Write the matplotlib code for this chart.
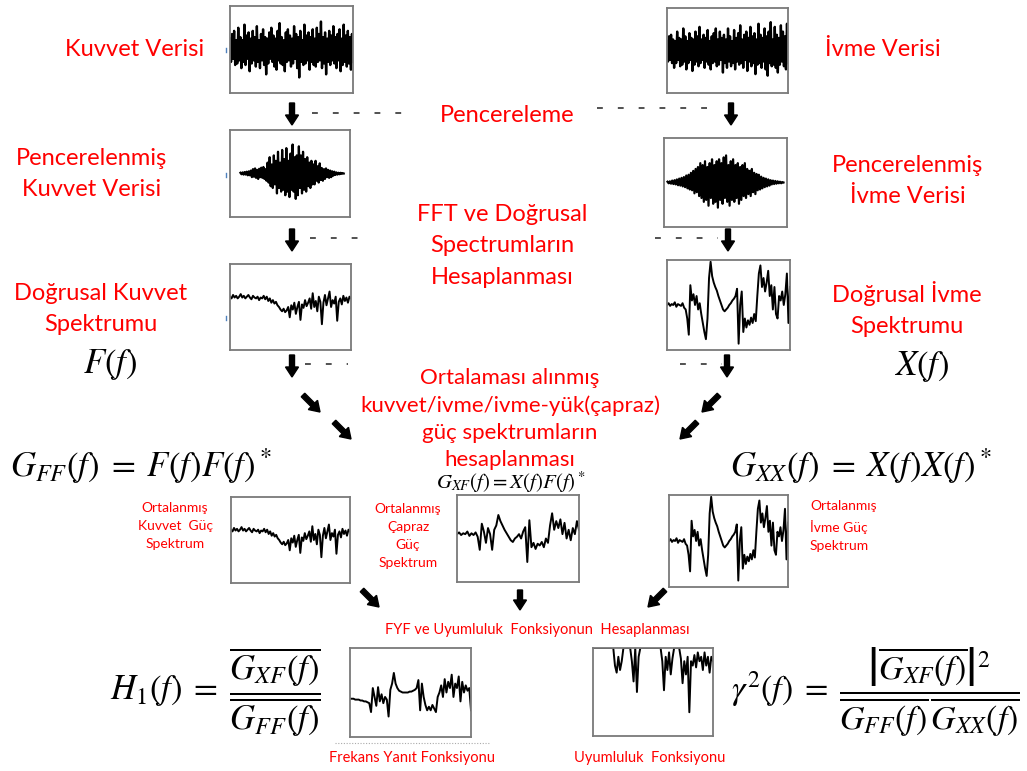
import matplotlib
matplotlib.use("Agg")
import matplotlib.pyplot as plt
from matplotlib.patches import FancyArrow

plt.rcParams['font.family'] = ['Lato', 'DejaVu Sans']
plt.rcParams['mathtext.fontset'] = 'stix'

W, H = 1027, 771
RED = '#ff0000'

# ---- signal data ----
force_raw = [0.35, -0.4, 0.5, -0.3, 0.6, -0.5, 0.3, -0.45, 0.7, -0.35,
             0.4, -0.6, 0.3, -0.4, 0.8, -0.5, 0.45, -0.3, 0.55, -0.7,
             0.35, -0.45, 0.6, -0.35, 0.4, -0.55, 0.75, -0.4, 0.3, -0.6,
             0.5, -0.35, 0.65, -0.5, 0.4, -0.8, 0.35, -0.45, 0.55, -0.3,
             0.7, -0.4, 0.45, -0.55, 0.35, -0.65, 0.6, -0.35, 0.85, -0.45,
             0.4, -0.5, 0.3, -0.7, 0.55, -0.4, 0.65, -0.35, 0.45, -0.55,
             0.35, -0.45, 0.75, -0.3, 0.5, -0.6, 0.4, -0.9, 0.6, -0.4,
             0.3, -0.5, 0.8, -0.45, 0.45, -0.35, 0.55, -0.65, 0.4, -0.4,
             0.65, -0.5, 0.35, -0.55, 0.7, -0.4, 0.5, -0.35, 0.9, -0.6,
             0.4, -0.45, 0.55, -0.8, 0.35, -0.4, 0.6, -0.5, 0.45, -0.35,
             0.75, -0.45, 0.4, -0.6, 0.5, -0.35, 0.65, -0.7, 0.35, -0.5,
             0.8, -0.4, 0.45, -0.55, 0.6, -0.45, 0.4, -0.65, 0.5, -0.4]

ivme_raw = [0.3, -0.35, 0.45, -0.3, 0.5, -0.4, 0.35, -0.55, 0.3, -0.4,
            0.6, -0.3, 0.4, -0.5, 0.35, -0.45, 0.7, -0.35, 0.45, -0.6,
            0.3, -0.4, 0.55, -0.3, 0.4, -0.65, 0.35, -0.45, 0.6, -0.35,
            0.45, -0.5, 0.75, -0.4, 0.35, -0.3, 0.5, -0.55, 0.4, -0.35,
            0.65, -0.45, 0.3, -0.6, 0.45, -0.4, 0.55, -0.35, 0.7, -0.5,
            0.35, -0.45, 0.6, -0.3, 0.4, -0.7, 0.5, -0.4, 0.35, -0.55,
            0.7, -0.35, 0.45, -0.5, 0.3, -0.4, 0.65, -0.6, 0.4, -0.35,
            0.55, -0.45, 0.8, -0.4, 0.35, -0.55, 0.5, -0.3, 0.6, -0.65,
            0.4, -0.35, 0.75, -0.5, 0.45, -0.4, 0.55, -0.75, 0.35, -0.45,
            0.85, -0.4, 0.5, -0.55, 0.4, -0.35, 0.7, -0.6, 0.45, -0.8,
            0.6, -0.4, 0.9, -0.5, 0.35, -0.45, 0.75, -0.55, 0.5, -0.7,
            0.4, -0.45, 0.8, -0.35, 0.6, -0.5, 0.45, -0.6, 0.85, -0.4]

force_win = [0.02, -0.02, 0.03, -0.03, 0.04, -0.03, 0.05, -0.05, 0.06, -0.05,
             0.08, -0.1, 0.12, -0.09, 0.14, -0.12, 0.1, -0.15, 0.13, -0.1,
             0.16, -0.12, 0.18, -0.15, 0.12, -0.2, 0.3, -0.25, 0.45, -0.35,
             0.25, -0.4, 0.5, -0.3, 0.35, -0.55, 0.6, -0.4, 0.3, -0.5,
             0.65, -0.45, 0.4, -0.6, 0.7, -0.5, 0.35, -0.65, 0.55, -0.45,
             0.8, -0.5, 0.45, -0.7, 0.5, -0.6, 0.75, -0.4, 0.5, -0.55,
             0.6, -0.45, 0.4, -0.5, 0.45, -0.35, 0.3, -0.4, 0.35, -0.3,
             0.25, -0.3, 0.35, -0.2, 0.2, -0.25, 0.28, -0.18, 0.15, -0.2,
             0.12, -0.15, 0.14, -0.1, 0.1, -0.12, 0.08, -0.1, 0.06, -0.06,
             0.05, -0.04, 0.03, -0.03, 0.02, -0.02, 0.02, -0.01, 0.01, 0.0]

ivme_win = [0.02, -0.02, 0.03, -0.03, 0.05, -0.04, 0.06, -0.05, 0.08, -0.07,
            0.1, -0.08, 0.12, -0.1, 0.14, -0.12, 0.18, -0.15, 0.2, -0.18,
            0.25, -0.2, 0.3, -0.28, 0.35, -0.25, 0.4, -0.35, 0.5, -0.4,
            0.45, -0.5, 0.55, -0.45, 0.4, -0.6, 0.5, -0.4, 0.6, -0.55,
            0.45, -0.5, 0.55, -0.65, 0.6, -0.45, 0.5, -0.55, 0.65, -0.4,
            0.7, -0.5, 0.45, -0.6, 0.55, -0.45, 0.6, -0.5, 0.45, -0.4,
            0.5, -0.55, 0.4, -0.45, 0.45, -0.35, 0.5, -0.4, 0.35, -0.3,
            0.3, -0.35, 0.35, -0.25, 0.25, -0.3, 0.22, -0.2, 0.2, -0.18,
            0.15, -0.15, 0.12, -0.12, 0.1, -0.1, 0.08, -0.08, 0.06, -0.05,
            0.05, -0.04, 0.04, -0.03, 0.03, -0.02, 0.02, -0.02, 0.01, 0.0]

force_spec = [0.62, 0.60, 0.64, 0.61, 0.63, 0.60, 0.62, 0.65, 0.61, 0.63,
              0.60, 0.62, 0.64, 0.61, 0.59, 0.63, 0.61, 0.60, 0.62, 0.58,
              0.61, 0.60, 0.63, 0.59, 0.62, 0.57, 0.60, 0.55, 0.58, 0.54,
              0.56, 0.52, 0.50, 0.47, 0.45, 0.48, 0.44, 0.46, 0.50, 0.38,
              0.52, 0.47, 0.55, 0.42, 0.50, 0.56, 0.35, 0.53, 0.49, 0.58,
              0.51, 0.55, 0.60, 0.48, 0.66, 0.50, 0.57, 0.45, 0.62, 0.56,
              0.30, 0.55, 0.64, 0.52, 0.60, 0.68, 0.50, 0.58, 0.54, 0.62,
              0.34, 0.56, 0.60, 0.53, 0.63, 0.57, 0.61, 0.55, 0.62, 0.60]

ivme_spec = [0.5, 0.52, 0.49, 0.51, 0.5, 0.53, 0.48, 0.51, 0.5, 0.49,
             0.52, 0.47, 0.45, 0.35, 0.17, 0.72, 0.55, 0.62, 0.5, 0.6,
             0.45, 0.52, 0.4, 0.3, 0.2, 0.12, 0.35, 0.8, 0.98, 0.82,
             0.75, 0.7, 0.66, 0.6, 0.55, 0.5, 0.45, 0.43, 0.45, 0.47,
             0.5, 0.52, 0.55, 0.57, 0.6, 0.68, 0.07, 0.5, 0.65, 0.2,
             0.35, 0.25, 0.33, 0.28, 0.36, 0.3, 0.4, 0.32, 0.6, 0.85,
             0.94, 0.7, 0.8, 0.65, 0.75, 0.88, 0.6, 0.72, 0.45, 0.7,
             0.4, 0.35, 0.6, 0.55, 0.65, 0.5, 0.62, 0.85, 0.3, 0.7]

cross_spec = [0.55, 0.57, 0.54, 0.56, 0.55, 0.58, 0.53, 0.56, 0.54, 0.57,
              0.52, 0.37, 0.67, 0.58, 0.45, 0.62, 0.55, 0.37, 0.6, 0.65,
              0.77, 0.7, 0.65, 0.6, 0.56, 0.52, 0.48, 0.46, 0.5, 0.52,
              0.55, 0.5, 0.58, 0.63, 0.23, 0.71, 0.4, 0.45, 0.38, 0.44,
              0.42, 0.46, 0.4, 0.5, 0.45, 0.65, 0.79, 0.6, 0.7, 0.62,
              0.72, 0.55, 0.68, 0.5, 0.6, 0.48, 0.62, 0.55, 0.7, 0.6]

frf = [0.43, 0.43, 0.43, 0.42, 0.42, 0.42, 0.41, 0.41, 0.40, 0.40,
       0.39, 0.38, 0.28, 0.55, 0.45, 0.35, 0.56, 0.4, 0.48, 0.38,
       0.45, 0.42, 0.23, 0.53, 0.6, 0.72, 0.6, 0.55, 0.52, 0.51,
       0.5, 0.5, 0.5, 0.5, 0.51, 0.51, 0.52, 0.53, 0.55, 0.64,
       0.3, 0.6, 0.45, 0.36, 0.3, 0.34, 0.3, 0.36, 0.32, 0.28,
       0.45, 0.5, 0.58, 0.45, 0.65, 0.5, 0.62, 0.55, 0.7, 0.45,
       0.6, 0.55, 0.68, 0.4, 0.62, 0.5, 0.58, 0.52, 0.55, 0.3]

coherence = [1, 1, 1, 1, 1, 1, 1, 1, 1, 1,
             1, 1, 1, 0.8, 0.72, 0.9, 0.75, 0.85, 1, 1,
             1, 1, 1, 0.85, 0.62, 1, 0.5, 0.9, 1, 1,
             1, 1, 1, 1, 1, 1, 1, 1, 1, 1,
             1, 0.85, 0.52, 0.9, 0.75, 0.95, 0.7, 0.88, 1, 1,
             1, 1, 0.88, 0.6, 0.85, 0.7, 0.9, 0.27, 0.85, 0.8,
             0.92, 0.78, 0.95, 0.85, 0.9, 0.75, 0.95, 0.8, 0.9, 0.72,
             0.9, 0.85]

fig = plt.figure(figsize=(W / 100, H / 100), dpi=100)

# background axes in pixel coordinates for texts, arrows and dashes
bg = fig.add_axes([0, 0, 1, 1])
bg.set_xlim(0, W)
bg.set_ylim(H, 0)
bg.axis('off')


def box(l, t, r, b, data, ylim, xpad=(0, 0), lw=0.9):
    ax = fig.add_axes([l / W, 1 - b / H, (r - l) / W, (b - t) / H])
    ax.plot(range(len(data)), data, color='black', lw=lw)
    ax.set_xlim(-xpad[0], len(data) - 1 + xpad[1])
    ax.set_ylim(*ylim)
    ax.set_xticks([])
    ax.set_yticks([])
    for s in ax.spines.values():
        s.set_color('#7a7a7a')
        s.set_linewidth(1.3)
    return ax


box(230, 6, 353, 93, force_raw, (-1.4, 1.4), lw=1.7)
box(667, 8, 788, 93, ivme_raw, (-1.35, 1.35), lw=1.7)
box(230, 130, 350, 217, force_win, (-1.2, 1.2), xpad=(10, 6), lw=1.6)
box(664, 138, 787, 227, ivme_win, (-1.15, 1.15), xpad=(3, 3), lw=1.6)
box(230, 264, 351, 350, force_spec, (0, 1), lw=1.4)
box(667, 260, 790, 350, ivme_spec, (0, 1), lw=1.4)
box(231, 497, 350, 583, force_spec, (0, 1), lw=1.4)
box(457, 495, 579, 582, cross_spec, (0, 1), lw=1.4)
box(669, 495, 788, 587, ivme_spec, (0, 1), lw=1.4)
box(350, 648, 471, 737, frf, (0, 1), lw=1.4)
box(593, 648, 713, 736, coherence, (0, 1), lw=1.4)

# tiny blue marks at the left of the force boxes
for yy in (50, 175, 318):
    bg.plot([226, 226], [yy - 2, yy + 2], color='#4f81bd', lw=1)

# red labels
big = 17
bg.text(135, 50, 'Kuvvet Verisi', color=RED, fontsize=big, ha='center', va='center')
bg.text(883, 50, 'İvme Verisi', color=RED, fontsize=big, ha='center', va='center')
bg.text(507, 115, 'Pencereleme', color=RED, fontsize=big, ha='center', va='center')
bg.text(92, 174, 'Pencerelenmiş\nKuvvet Verisi', color=RED, fontsize=big,
        ha='center', va='center', linespacing=1.56)
bg.text(908, 181, 'Pencerelenmiş\nİvme Verisi', color=RED, fontsize=big,
        ha='center', va='center', linespacing=1.56)
bg.text(502, 246, 'FFT ve Doğrusal\nSpectrumların\nHesaplanması', color=RED, fontsize=big,
        ha='center', va='center', linespacing=1.6)
bg.text(101, 309, 'Doğrusal Kuvvet\nSpektrumu', color=RED, fontsize=big,
        ha='center', va='center', linespacing=1.6)
bg.text(907, 309, 'Doğrusal İvme\nSpektrumu', color=RED, fontsize=big,
        ha='center', va='center', linespacing=1.6)
bg.text(510, 419, 'Ortalaması alınmış\nkuvvet/ivme/ivme-yük(çapraz)\ngüç spektrumların\nhesaplanması',
        color=RED, fontsize=16, ha='center', va='center', linespacing=1.42)

small = 10
bg.text(175, 526, 'Ortalanmış\nKuvvet  Güç\nSpektrum', color=RED, fontsize=small,
        ha='center', va='center', linespacing=1.62)
bg.text(408, 536, 'Ortalanmış\nÇapraz\nGüç\nSpektrum', color=RED, fontsize=small,
        ha='center', va='center', linespacing=1.62)
bg.text(810, 526, 'Ortalanmış\nİvme Güç\nSpektrum', color=RED, fontsize=small,
        ha='left', va='center', linespacing=1.62)
bg.text(537, 630, 'FYF ve Uyumluluk  Fonksiyonun  Hesaplanması', color=RED, fontsize=10.5,
        ha='center', va='center')
bg.text(412, 758, 'Frekans Yanıt Fonksiyonu', color=RED, fontsize=10.5, ha='center', va='center')
bg.text(650, 758, 'Uyumluluk  Fonksiyonu', color=RED, fontsize=10.5, ha='center', va='center')

# formulas
m = 25
bg.text(110, 364, r'$F(f)$', fontsize=m, ha='center', va='center')
bg.text(922, 366, r'$X(f)$', fontsize=m, ha='center', va='center')
bg.text(10, 466, r'$G_{FF}(f)\;=\;F(f)F(f)^*$', fontsize=m, ha='left', va='center')
bg.text(730, 466, r'$G_{XX}(f)\;=\;X(f)X(f)^*$', fontsize=m, ha='left', va='center')
bg.text(511, 482, r'$G_{XF}(f) = X(f)F(f)^*$', fontsize=15, ha='center', va='center')
bg.text(110, 692, r'$H_1(f)\;=\;\dfrac{\overline{G_{XF}(f)}}{\overline{G_{FF}(f)}}$',
        fontsize=m, ha='left', va='center')
bg.text(731, 692, r'$\gamma^2(f)\;=\;\dfrac{\left|\overline{G_{XF}(f)}\right|^2}{\overline{G_{FF}(f)}\,\overline{G_{XX}(f)}}$',
        fontsize=24.5, ha='left', va='center')

# block arrows
arrows = [(292, 103, 0, 22), (731, 103, 0, 22), (292, 229, 0, 22), (728, 229, 0, 22),
          (292, 355, 0, 22), (727, 355, 0, 22),
          (303, 395, 17, 17), (334, 422, 17, 17), (719, 395, -17, 17), (697, 422, -17, 17),
          (362, 590, 17, 17), (520, 590, 0, 20), (665, 590, -17, 17)]
for x, y, dx, dy in arrows:
    bg.add_patch(FancyArrow(x, y, dx, dy, width=5, head_width=13, head_length=10,
                            length_includes_head=True, color='black'))

# dashed connectors
dash = dict(color='#333333', lw=1.2, dashes=(3.5, 9))
bg.plot([312, 405], [113, 113], **dash)
bg.plot([597, 722], [108, 108], **dash)
bg.plot([310, 362], [238, 238], **dash)
bg.plot([655, 718], [238, 238], **dash)
bg.plot([305, 348], [364, 364], **dash)
bg.plot([680, 722], [364, 364], **dash)
bg.plot([335, 490], [743, 743], color='#aaaaaa', lw=0.8, dashes=(1, 1.5))

fig.savefig('out.png', dpi=100)
